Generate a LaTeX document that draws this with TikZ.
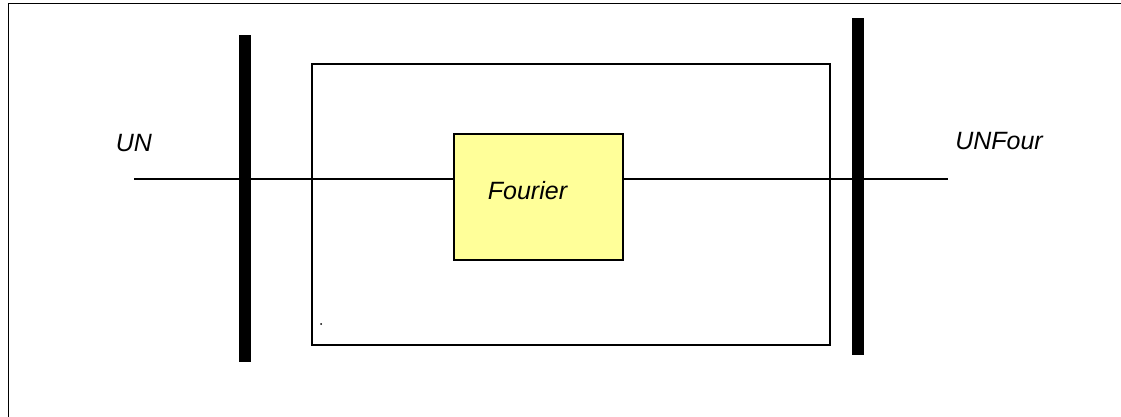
\documentclass[tikz,border=0pt]{standalone}
\usepackage{fontspec}
\setmainfont{Liberation Sans}
\definecolor{paleyellow}{HTML}{FFFF99}
\begin{document}
\begin{tikzpicture}[x=1pt,y=-1pt,
  lbl/.style={font=\fontsize{25}{30}\selectfont\itshape, inner sep=0pt},
  bar/.style={fill=black, draw=none, minimum width=12pt, inner sep=0pt},
  thinline/.style={line width=1.2pt}]
\useasboundingbox (0,0) rectangle (1121,417);
% outer frame (cropped at right and bottom)
\draw[line width=1pt] (8,417) -- (8,4) -- (1121,4);
% inner rectangle
\node[draw, line width=1.5pt, minimum width=518pt, minimum height=281pt, inner sep=0pt] (inner) at (571,204.5) {};
% bars
\node[bar, minimum height=327pt] (lbar) at (245,198.5) {};
\node[bar, minimum height=337pt] (rbar) at (858,186.5) {};
% Fourier block
\node[draw, fill=paleyellow, line width=2pt, minimum width=169pt, minimum height=126pt, inner sep=0pt] (four) at (538.5,197) {};
\node[lbl] (fourtxt) at (527.5,191) {Fourier};
% connectors
\coordinate (in) at (134,179);
\coordinate (out) at (948,179);
\draw[thinline] (in) -- (four.west |- in);
\draw[thinline] (four.east |- out) -- (out);
% labels
\node[lbl] (un) at (134,143) {UN};
\node[lbl] (unfour) at (999,141) {UNFour};
% small dot
\fill (321,324) circle (1pt);
\end{tikzpicture}
\end{document}
